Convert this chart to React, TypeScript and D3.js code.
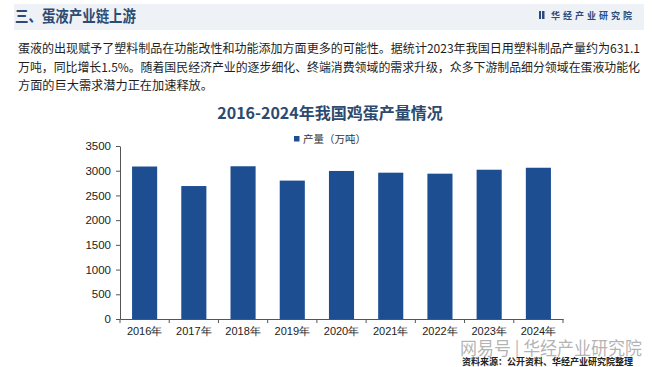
import React, { useEffect, useRef } from "react";
import * as d3 from "d3";

const years = ["2016年", "2017年", "2018年", "2019年", "2020年", "2021年", "2022年", "2023年", "2024年"];
const output = [3085, 2690, 3090, 2800, 2995, 2960, 2940, 3020, 3060];
const yTicks = [0, 500, 1000, 1500, 2000, 2500, 3000, 3500];

const headerTitle = "三、蛋液产业链上游";
const brand = "华经产业研究院";
const paragraph = [
  "蛋液的出现赋予了塑料制品在功能改性和功能添加方面更多的可能性。据统计2023年我国日用塑料制品产量约为631.1",
  "万吨，同比增长1.5%。随着国民经济产业的逐步细化、终端消费领域的需求升级，众多下游制品细分领域在蛋液功能化",
  "方面的巨大需求潜力正在加速释放。",
];
const chartTitle = "2016-2024年我国鸡蛋产量情况";
const legendLabel = "产量（万吨）";
const sourceNote = "资料来源：公开资料、华经产业研究院整理";
const stamp = "网易号 | 华经产业研究院";

const W = 660;
const H = 367;
const FONT = "'Noto Sans CJK SC', 'Liberation Sans', Arial, sans-serif";

const App = () => {
  const ref = useRef<SVGSVGElement>(null);

  useEffect(() => {
    const svg = d3.select(ref.current);
    svg.selectAll("*").remove();

    const margin = { top: 146, left: 120, right: W - 563, bottom: H - 319 };

    // header strip
    svg.append("rect")
      .attr("x", 14).attr("y", 4).attr("width", 630).attr("height", 26)
      .attr("fill", "#eef1f6");
    svg.append("text")
      .text(headerTitle)
      .attr("x", 15).attr("y", 22)
      .attr("font-size", 16).attr("font-weight", "bold")
      .attr("textLength", 121).attr("lengthAdjust", "spacingAndGlyphs")
      .attr("fill", "#2c4a72");

    // brand logo
    const logo = svg.append("g").attr("transform", "translate(539,11)");
    logo.append("rect").attr("x", 0).attr("y", 0).attr("width", 2).attr("height", 8).attr("fill", "#2c4a7a");
    logo.append("rect").attr("x", 3).attr("y", 0).attr("width", 2.5).attr("height", 8).attr("fill", "#2c4a7a");
    logo.append("text")
      .text(brand)
      .attr("x", 12).attr("y", 8)
      .attr("font-size", 9).attr("font-weight", "bold")
      .attr("letter-spacing", 3)
      .attr("fill", "#2c4a7a");

    // paragraph
    paragraph.forEach((line, i) => {
      const t = svg.append("text")
        .text(line)
        .attr("x", 18).attr("y", 53 + i * 18.5)
        .attr("font-size", 12.2)
        .attr("fill", "#1e1e1e");
      if (i < 2) t.attr("textLength", 622).attr("lengthAdjust", "spacingAndGlyphs");
    });

    // chart title
    svg.append("text")
      .text(chartTitle)
      .attr("x", 330).attr("y", 119)
      .attr("text-anchor", "middle")
      .attr("font-size", 16).attr("font-weight", "bold")
      .attr("fill", "#2c4a6e");

    // legend
    svg.append("rect").attr("x", 294).attr("y", 136).attr("width", 5.5).attr("height", 5.5).attr("fill", "#1d4e92");
    svg.append("text")
      .text(legendLabel)
      .attr("x", 303).attr("y", 143)
      .attr("font-size", 10.5)
      .attr("fill", "#333");

    const x = d3.scaleBand()
      .domain(years)
      .range([margin.left, W - margin.right])
      .paddingInner(0.49)
      .paddingOuter(0.245);

    const y = d3.scaleLinear()
      .domain([0, 3500])
      .range([H - margin.bottom, margin.top]);

    svg.append("g")
      .selectAll("rect")
      .data(output)
      .join("rect")
      .attr("x", (d, i) => x(years[i]))
      .attr("y", d => y(d))
      .attr("width", x.bandwidth())
      .attr("height", d => y(0) - y(d))
      .attr("fill", "#1d4e92");

    const yAxis = svg.append("g")
      .attr("transform", `translate(${margin.left},0)`)
      .call(d3.axisLeft(y).tickValues(yTicks).tickFormat(d3.format("d")).tickSize(4).tickSizeOuter(0).tickPadding(5));
    yAxis.select(".domain").attr("stroke", "#555");
    yAxis.selectAll(".tick line").attr("stroke", "#555");
    yAxis.selectAll("text").attr("font-size", 11.5).attr("fill", "#222").attr("font-family", "'Liberation Sans', Arial, sans-serif");

    const xAxis = svg.append("g")
      .attr("transform", `translate(0,${y(0)})`)
      .call(d3.axisBottom(x).tickSize(0).tickPadding(8));
    xAxis.select(".domain").attr("stroke", "#555");
    xAxis.selectAll("text").attr("font-size", 11).attr("fill", "#222");

    // category boundary ticks
    const step = x.step();
    svg.append("g")
      .selectAll("line")
      .data(d3.range(years.length + 1))
      .join("line")
      .attr("x1", i => margin.left + i * step)
      .attr("x2", i => margin.left + i * step)
      .attr("y1", y(0))
      .attr("y2", y(0) + 4)
      .attr("stroke", "#555");

    // stamp + source
    svg.append("text")
      .text(stamp)
      .attr("x", 460).attr("y", 355)
      .attr("font-size", 18)
      .attr("textLength", 182).attr("lengthAdjust", "spacingAndGlyphs")
      .attr("fill", "#9a9a9a")
      .attr("fill-opacity", 0.75);
    svg.append("text")
      .text(sourceNote)
      .attr("x", 462).attr("y", 365)
      .attr("font-size", 9.5).attr("font-weight", "bold")
      .attr("textLength", 171).attr("lengthAdjust", "spacingAndGlyphs")
      .attr("fill", "#222");
  }, []);

  return (
    <svg
      ref={ref}
      width={W}
      height={H}
      style={{ position: "absolute", left: 0, top: 0, background: "#fff", fontFamily: FONT }}
      fontFamily={FONT}
    />
  );
};

export default App;
